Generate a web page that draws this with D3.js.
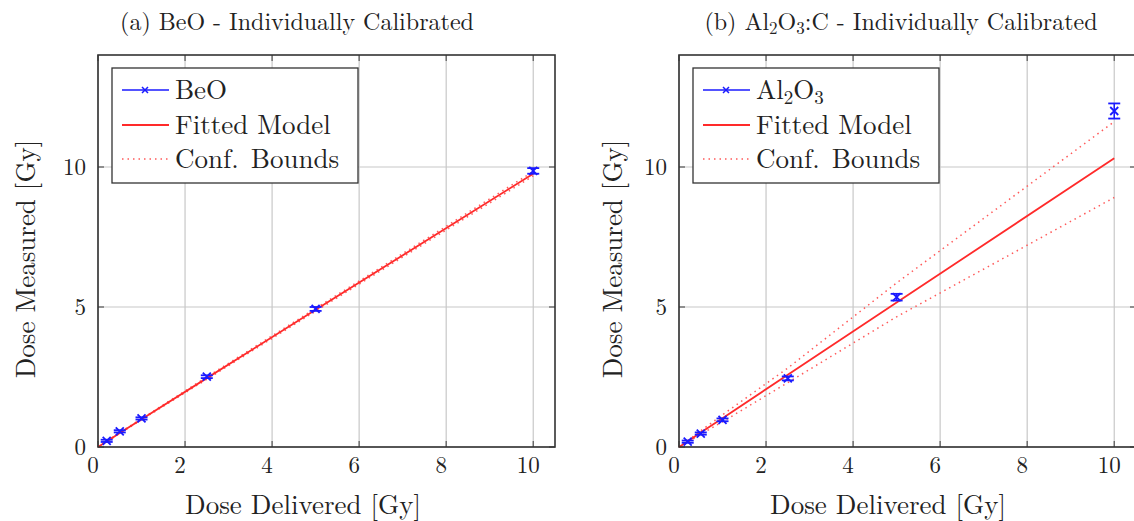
<!DOCTYPE html>
<html>
<head>
<meta charset="utf-8">
<script src="https://cdn.jsdelivr.net/npm/d3@7"></script>
<style>
  body { margin: 0; background: #fff; }
</style>
</head>
<body>
<div id="chart"></div>
<script>
// doses delivered (Gy)
var doses = [0.2, 0.5, 1, 2.5, 5, 10];
var fitDoses = [0, 0.2, 0.5, 1, 2.5, 5, 10];

// BeO
var beoMeasured = [0.22, 0.56, 1.02, 2.51, 4.93, 9.86];
var beoError = [0.04, 0.04, 0.04, 0.05, 0.07, 0.1];
var beoFit = [0, 0.2, 0.5, 0.99, 2.46, 4.9, 9.76];
var beoUpper = [0, 0.21, 0.52, 1.01, 2.5, 4.95, 9.84];
var beoLower = [0, 0.19, 0.48, 0.97, 2.42, 4.85, 9.68];

// Al2O3:C
var alMeasured = [0.19, 0.48, 0.97, 2.45, 5.35, 12.0];
var alError = [0.04, 0.04, 0.05, 0.07, 0.12, 0.27];
var alFit = [0, 0.2, 0.52, 1.03, 2.58, 5.16, 10.31];
var alUpper = [0, 0.23, 0.58, 1.15, 2.82, 5.86, 11.62];
var alLower = [0, 0.18, 0.45, 0.9, 2.3, 4.65, 8.91];

var xTicks = [0, 2, 4, 6, 8, 10];
var yTicks = [0, 5, 10];

var W = 1134, H = 521;
var pw = 457, ph = 392;
var FONT = "'Latin Modern Roman', 'Liberation Serif', serif";

var svg = d3.select("#chart").append("svg")
    .attr("width", W).attr("height", H)
    .style("font-family", FONT)
    .style("fill", "#222");

function panel(opt) {
    var g = svg.append("g")
        .attr("transform", "translate(" + opt.left + ",55)");

    var x = d3.scaleLinear().domain([0, 10.5]).range([0, pw]);
    var y = d3.scaleLinear().domain([0, 14]).range([ph, 0]);

    // grid
    g.selectAll(".gx").data(xTicks).enter().append("line")
        .attr("x1", d => x(d)).attr("x2", d => x(d))
        .attr("y1", 0).attr("y2", ph)
        .attr("stroke", "#c8c8c8").attr("stroke-width", 1.2);
    g.selectAll(".gy").data(yTicks).enter().append("line")
        .attr("x1", 0).attr("x2", pw)
        .attr("y1", d => y(d)).attr("y2", d => y(d))
        .attr("stroke", "#c8c8c8").attr("stroke-width", 1.2);

    // ticks inside the box on all sides
    var tl = 6;
    xTicks.forEach(function(t) {
        g.append("line").attr("x1", x(t)).attr("x2", x(t)).attr("y1", ph).attr("y2", ph - tl)
            .attr("stroke", "#555").attr("stroke-width", 1.2);
        g.append("line").attr("x1", x(t)).attr("x2", x(t)).attr("y1", 0).attr("y2", tl)
            .attr("stroke", "#555").attr("stroke-width", 1.2);
    });
    yTicks.forEach(function(t) {
        g.append("line").attr("x1", 0).attr("x2", tl).attr("y1", y(t)).attr("y2", y(t))
            .attr("stroke", "#555").attr("stroke-width", 1.2);
        g.append("line").attr("x1", pw).attr("x2", pw - tl).attr("y1", y(t)).attr("y2", y(t))
            .attr("stroke", "#555").attr("stroke-width", 1.2);
    });

    // tick labels
    g.selectAll(".xl").data(xTicks).enter().append("text")
        .attr("x", d => x(d) - 5).attr("y", ph + 26)
        .attr("text-anchor", "middle").attr("font-size", 23)
        .text(d => d);
    g.selectAll(".yl").data(yTicks).enter().append("text")
        .attr("x", -12).attr("y", d => y(d) + 8)
        .attr("text-anchor", "end").attr("font-size", 23)
        .text(d => d);

    // fitted model, bounds
    var line = d3.line().x((d, i) => x(fitDoses[i])).y(d => y(d));
    [opt.upper, opt.lower].forEach(function(b) {
        g.append("path").attr("d", line(b))
            .attr("fill", "none").attr("stroke", "#ff5a5a")
            .attr("stroke-width", 1.5).attr("stroke-dasharray", "1.5,4");
    });
    g.append("path").attr("d", line(opt.fit))
        .attr("fill", "none").attr("stroke", "#ff2a2a").attr("stroke-width", 1.8);

    // measured points with error bars
    var pts = g.selectAll(".pt").data(opt.measured).enter().append("g")
        .attr("transform", (d, i) => "translate(" + x(doses[i]) + "," + y(d) + ")");
    pts.append("line")
        .attr("x1", 0).attr("x2", 0)
        .attr("y1", (d, i) => y(d + opt.err[i]) - y(d))
        .attr("y2", (d, i) => y(d - opt.err[i]) - y(d))
        .attr("stroke", "#1a1aff").attr("stroke-width", 1.5);
    [-1, 1].forEach(function(s) {
        pts.append("line")
            .attr("x1", -6).attr("x2", 6)
            .attr("y1", (d, i) => y(d + s * opt.err[i]) - y(d))
            .attr("y2", (d, i) => y(d + s * opt.err[i]) - y(d))
            .attr("stroke", "#1a1aff").attr("stroke-width", 1.8);
    });
    pts.append("path").attr("d", "M-4,-4L4,4M-4,4L4,-4")
        .attr("stroke", "#1a1aff").attr("stroke-width", 1.8);

    // frame
    g.append("rect").attr("width", pw).attr("height", ph)
        .attr("fill", "none").attr("stroke", "#333").attr("stroke-width", 1.6);

    // legend
    var lg = g.append("g").attr("transform", "translate(" + opt.legX + ",13)");
    lg.append("rect").attr("width", 246).attr("height", 115)
        .attr("fill", "#fff").attr("stroke", "#333").attr("stroke-width", 1.3);
    var rows = [22, 57, 91];
    lg.append("line").attr("x1", 10).attr("x2", 57).attr("y1", rows[0]).attr("y2", rows[0])
        .attr("stroke", "#1a1aff").attr("stroke-width", 1.5);
    lg.append("path").attr("d", "M30,19L36,25M30,25L36,19")
        .attr("stroke", "#1a1aff").attr("stroke-width", 1.5);
    lg.append("line").attr("x1", 10).attr("x2", 57).attr("y1", rows[1]).attr("y2", rows[1])
        .attr("stroke", "#ff2a2a").attr("stroke-width", 1.8);
    lg.append("line").attr("x1", 10).attr("x2", 57).attr("y1", rows[2]).attr("y2", rows[2])
        .attr("stroke", "#ff5a5a").attr("stroke-width", 1.5).attr("stroke-dasharray", "1.5,4");
    var t0 = lg.append("text").attr("x", 63).attr("y", rows[0] + 9).attr("font-size", 27);
    opt.legendName(t0);
    lg.append("text").attr("x", 63).attr("y", rows[1] + 9).attr("font-size", 27).text("Fitted Model");
    lg.append("text").attr("x", 63).attr("y", rows[2] + 9).attr("font-size", 27)
        .attr("word-spacing", 3).text("Conf. Bounds");

    // axis labels
    g.append("text").attr("x", opt.xLabX).attr("y", ph + 67)
        .attr("text-anchor", "middle").attr("font-size", 27)
        .text("Dose Delivered [Gy]");
    g.append("text")
        .attr("transform", "translate(" + opt.yLabX + "," + (ph / 2 + 8) + ") rotate(-90)")
        .attr("text-anchor", "middle").attr("font-size", 27)
        .text("Dose Measured [Gy]");

    // title
    var tt = svg.append("text").attr("x", opt.titleX).attr("y", 30)
        .attr("text-anchor", "middle").attr("font-size", 24);
    opt.title(tt);
}

panel({
    left: 98, legX: 14, xLabX: 205, yLabX: -63, titleX: 297,
    measured: beoMeasured, err: beoError, fit: beoFit, upper: beoUpper, lower: beoLower,
    legendName: function(t) { t.text("BeO"); },
    title: function(t) { t.text("(a) BeO - Individually Calibrated"); }
});

panel({
    left: 679, legX: 14, xLabX: 209, yLabX: -57, titleX: 901,
    measured: alMeasured, err: alError, fit: alFit, upper: alUpper, lower: alLower,
    legendName: function(t) {
        t.append("tspan").text("Al");
        t.append("tspan").attr("font-size", 19).attr("dy", 5).text("2");
        t.append("tspan").attr("dy", -5).text("O");
        t.append("tspan").attr("font-size", 19).attr("dy", 5).text("3");
    },
    title: function(t) {
        t.append("tspan").text("(b) Al");
        t.append("tspan").attr("font-size", 17).attr("dy", 4).text("2");
        t.append("tspan").attr("dy", -4).text("O");
        t.append("tspan").attr("font-size", 17).attr("dy", 4).text("3");
        t.append("tspan").attr("dy", -4).text(":C - Individually Calibrated");
    }
});
</script>
</body>
</html>
